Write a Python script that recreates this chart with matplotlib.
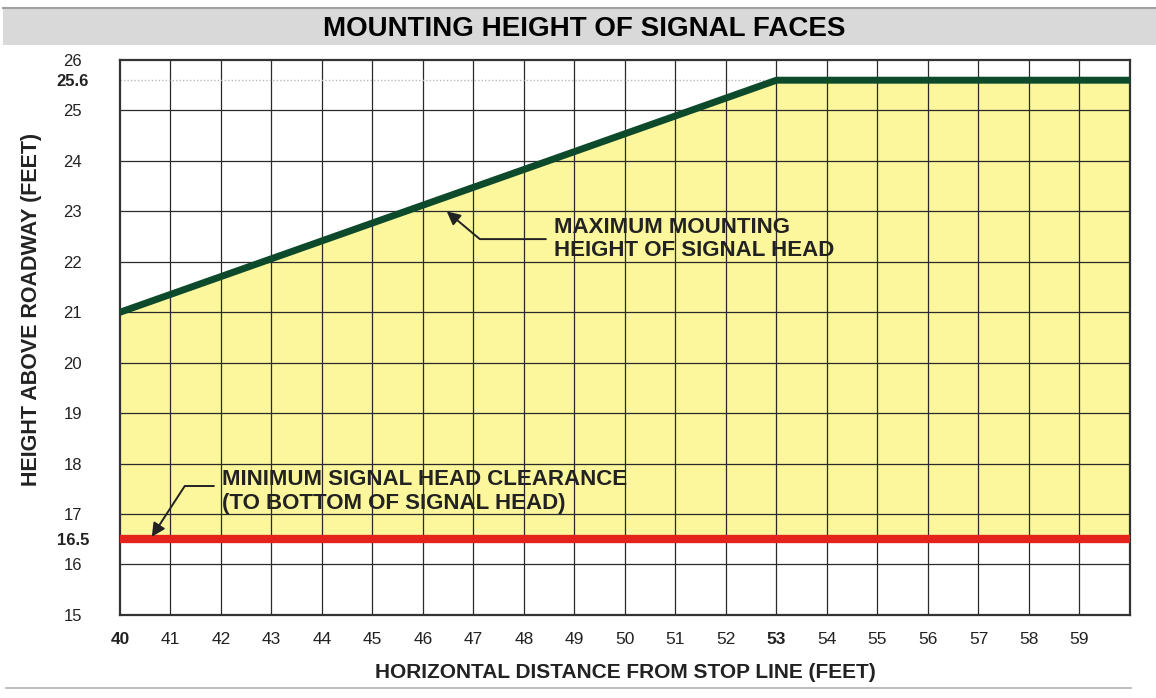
import matplotlib
matplotlib.use("Agg")
import matplotlib.pyplot as plt
from matplotlib.lines import Line2D
from matplotlib.patches import Rectangle

plt.rcParams['font.family'] = ['Liberation Sans', 'DejaVu Sans']

# data
dist_ft = [40, 53, 60]            # horizontal distance from stop line
max_height_ft = [21, 25.6, 25.6]  # maximum mounting height of signal head
min_clearance_ft = 16.5
x_ticks = list(range(40, 60))
y_ticks = [15, 16, 16.5, 17, 18, 19, 20, 21, 22, 23, 24, 25, 25.6, 26]
bold_x = [40, 53]
bold_y = [16.5, 25.6]

fig = plt.figure(figsize=(11.56, 6.98), dpi=100)

# title band
fig.patches.append(Rectangle((0.003, 0.936), 0.997, 0.053, transform=fig.transFigure,
                             facecolor='#d9d9d9', edgecolor='none'))
fig.lines.append(Line2D([0.003, 1.0], [0.989, 0.989], transform=fig.transFigure,
                        color='#a0a0a0', lw=1.5))
fig.lines.append(Line2D([0.005, 0.978], [0.014, 0.014], transform=fig.transFigure,
                        color='#b0b0b0', lw=1.2))
fig.text(0.505, 0.959, 'MOUNTING HEIGHT OF SIGNAL FACES', ha='center', va='center',
         fontsize=20, fontweight='bold')

ax = fig.add_axes([0.1038, 0.119, 0.8737, 0.795])
ax.set_xlim(40, 60)
ax.set_ylim(15, 26)

# yellow zone between clearance and max height
ax.fill_between(dist_ft, min_clearance_ft, max_height_ft, color='#fcf69c', zorder=1)

# grid
for x in range(41, 60):
    ax.axvline(x, color='#2a2a2a', lw=0.9, zorder=2)
for y in range(16, 26):
    ax.axhline(y, color='#2a2a2a', lw=0.9, zorder=2)
ax.plot([dist_ft[0], dist_ft[1]], [max_height_ft[1], max_height_ft[1]], color='#b8b8b8',
        lw=1, ls=(0, (1, 1.5)), zorder=2)

ax.plot(dist_ft, max_height_ft, color='#0d4a2c', lw=5, solid_capstyle='butt', zorder=4)
ax.axhline(min_clearance_ft, color='#e4241c', lw=6, zorder=4)

for s in ax.spines.values():
    s.set_color('#333333')
    s.set_linewidth(1.6)

ax.set_xticks(x_ticks)
ax.set_yticks(y_ticks)
ax.set_xticklabels([str(v) for v in x_ticks])
ax.set_yticklabels([str(v) for v in y_ticks])
ax.tick_params(axis='x', length=0, pad=12, labelsize=12.5, labelcolor='#222222')
ax.tick_params(axis='y', length=0, pad=34, labelsize=12, labelcolor='#222222')
for lab, v in zip(ax.get_xticklabels(), x_ticks):
    if v in bold_x:
        lab.set_fontweight('bold')
for lab, v in zip(ax.get_yticklabels(), y_ticks):
    lab.set_horizontalalignment('center')
    if v in bold_y:
        lab.set_fontweight('bold')

ax.set_xlabel('HORIZONTAL DISTANCE FROM STOP LINE (FEET)', fontsize=15,
              fontweight='bold', color='#222222', labelpad=12)
ax.set_ylabel('HEIGHT ABOVE ROADWAY (FEET)', fontsize=15.5, fontweight='bold',
              color='#222222')
ax.yaxis.set_label_coords(-0.077, 0.55)

ax.annotate('MAXIMUM MOUNTING\nHEIGHT OF SIGNAL HEAD', xy=(46.47, 23.0), xytext=(48.6, 22.45),
            ha='left', va='center', fontsize=16, fontweight='bold', color='#222222',
            linespacing=1.15, zorder=5,
            arrowprops=dict(arrowstyle='-|>', color='#222222', lw=1.4, mutation_scale=20,
                            shrinkA=0, shrinkB=0,
                            relpos=(-0.03, 0.5),
                            connectionstyle='angle,angleA=0,angleB=-40,rad=0'))
ax.annotate('MINIMUM SIGNAL HEAD CLEARANCE\n(TO BOTTOM OF SIGNAL HEAD)', xy=(40.63, 16.55),
            xytext=(42.02, 17.45), ha='left', va='center', fontsize=16, fontweight='bold',
            color='#222222', linespacing=1.15, zorder=5,
            arrowprops=dict(arrowstyle='-|>', color='#222222', lw=1.4, mutation_scale=20,
                            shrinkA=0, shrinkB=0, relpos=(-0.02, 0.62),
                            connectionstyle='angle,angleA=0,angleB=57,rad=0'))

fig.savefig('out.png', dpi=100)
